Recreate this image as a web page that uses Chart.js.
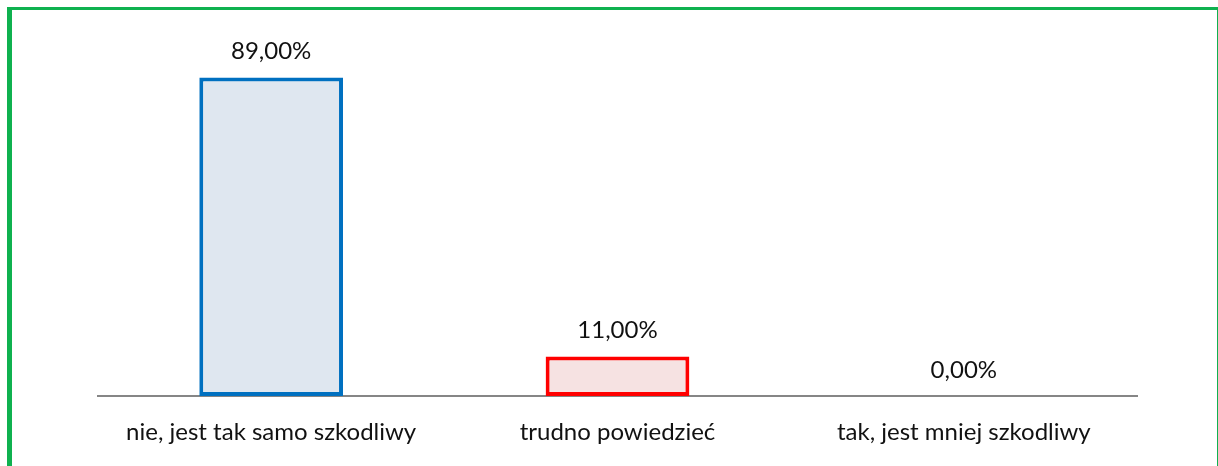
<!DOCTYPE html>
<html>
<head>
<meta charset="utf-8">
<script src="https://cdn.jsdelivr.net/npm/chart.js@4/dist/chart.umd.min.js"></script>
<style>
  html, body { margin: 0; padding: 0; background: #fff; }
  #wrap { position: relative; width: 1218px; height: 466px; overflow: hidden; }
  #frame {
    position: absolute; left: 7px; top: 7px; width: 1205px; height: 470px;
    border-left: 5px solid #0FB14F; border-top: 3px solid #0FB14F; border-right: 1px solid #0FB14F;
  }
  canvas { position: absolute; left: 0; top: 0; }
</style>
</head>
<body>
<div id="wrap">
  <div id="frame"></div>
  <canvas id="chart" width="1218" height="466"></canvas>
</div>
<script>
const categories = ["nie, jest tak samo szkodliwy", "trudno powiedzieć", "tak, jest mniej szkodliwy"];
const values = [89, 11, 0];
const fillColors = ["#DFE7F0", "#F6E2E2", "rgba(0,0,0,0)"];
const edgeColors = ["#0070C0", "#FF0000", "rgba(0,0,0,0)"];

const fontFamily = "Lato, 'Open Sans', sans-serif";

function formatPct(v) {
  return v.toFixed(2).replace(".", ",") + "%";
}

// draws the value above each bar
const valueLabels = {
  id: "valueLabels",
  afterDatasetsDraw(chart) {
    const ctx = chart.ctx;
    const meta = chart.getDatasetMeta(0);
    ctx.save();
    ctx.fillStyle = "#111";
    ctx.font = "24px " + fontFamily;
    ctx.textAlign = "center";
    ctx.textBaseline = "middle";
    meta.data.forEach((bar, i) => {
      ctx.fillText(formatPct(values[i]), bar.x, bar.y - 26);
    });
    ctx.restore();
  },
};

new Chart(document.getElementById("chart").getContext("2d"), {
  type: "bar",
  data: {
    labels: categories,
    datasets: [
      {
        data: values,
        backgroundColor: fillColors,
        borderColor: edgeColors,
        borderWidth: 4,
        borderSkipped: false,
        barPercentage: 0.415,
        categoryPercentage: 1,
      },
    ],
  },
  options: {
    responsive: false,
    animation: false,
    layout: { padding: { left: 98, right: 81, top: 38, bottom: 0 } },
    plugins: {
      legend: { display: false },
      tooltip: { enabled: false },
    },
    scales: {
      x: {
        grid: { display: false, drawTicks: false },
        border: { display: true, color: "#868686", width: 2 },
        ticks: {
          color: "#111",
          padding: 22,
          font: { size: 24, family: fontFamily },
        },
        afterFit(scale) {
          scale.height = 70;
        },
      },
      y: {
        display: false,
        min: 0,
        max: 100,
      },
    },
  },
  plugins: [valueLabels],
});
</script>
</body>
</html>
